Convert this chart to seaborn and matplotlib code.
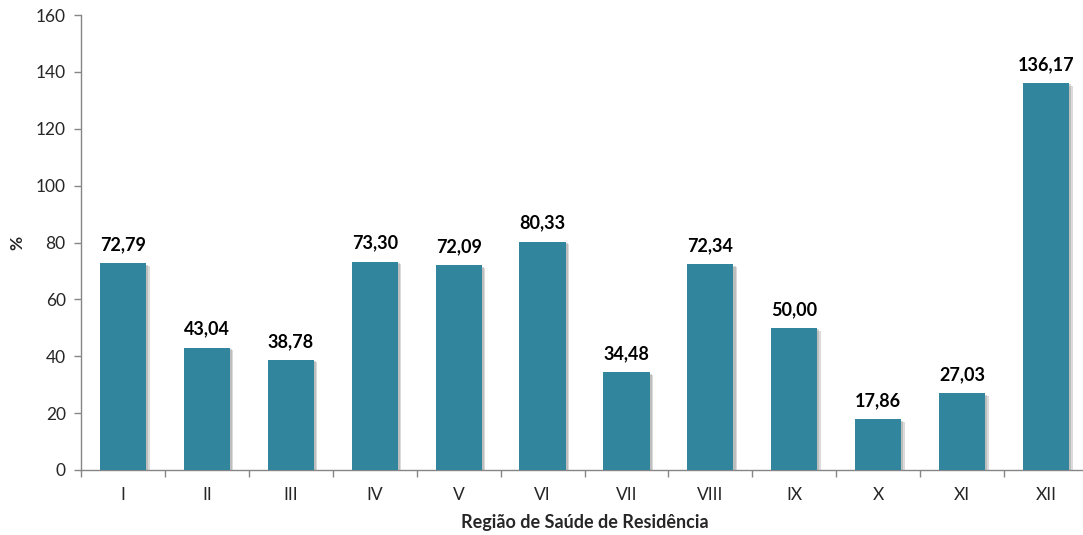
import matplotlib
matplotlib.use("Agg")
import matplotlib.pyplot as plt
import matplotlib.patheffects as pe
from matplotlib.ticker import FixedLocator, MultipleLocator
import seaborn as sns
import pandas as pd

regioes = ["I", "II", "III", "IV", "V", "VI", "VII", "VIII", "IX", "X", "XI", "XII"]
valores = [72.79, 43.04, 38.78, 73.30, 72.09, 80.33, 34.48, 72.34, 50.00, 17.86, 27.03, 136.17]

sns.set_theme(style="white")
plt.rcParams["font.family"] = ["Lato", "DejaVu Sans"]

df = pd.DataFrame({"regiao": regioes, "valor": valores})

fig = plt.figure(figsize=(10.83, 5.35), dpi=100)
ax = fig.add_axes([81 / 1083, 1 - 470 / 535, 1007 / 1083, 455 / 535])

sns.barplot(data=df, x="regiao", y="valor", color="#31859C", width=0.55,
            saturation=1, ax=ax, zorder=3)

# soft drop shadow to the lower right of each bar
shadow = [pe.SimplePatchShadow(offset=(2.5, -2), shadow_rgbFace="#9a9a9a", alpha=0.35),
          pe.SimplePatchShadow(offset=(1.5, -1.2), shadow_rgbFace="#8a8a8a", alpha=0.35),
          pe.Normal()]
for bar in ax.patches:
    bar.set_path_effects(shadow)
    bar.set_edgecolor("none")

for i, v in enumerate(valores):
    ax.text(i, v + 3.5, f"{v:.2f}".replace(".", ","), ha="center", va="bottom",
            fontsize=13, fontweight="bold", color="black")

ax.set_ylim(0, 160)
ax.set_xlim(-0.5, len(regioes) - 0.5)
ax.yaxis.set_major_locator(MultipleLocator(20))
ax.xaxis.set_minor_locator(FixedLocator([i + 0.5 for i in range(-1, len(regioes))]))

for side in ["top", "right"]:
    ax.spines[side].set_visible(False)
for side in ["left", "bottom"]:
    ax.spines[side].set_color("#868686")
    ax.spines[side].set_linewidth(1.0)

ax.tick_params(axis="y", which="major", direction="out", length=5, width=1,
               color="#868686", labelsize=12.5, pad=6, left=True)
ax.tick_params(axis="x", which="major", length=0, labelsize=12.5, pad=12)
ax.tick_params(axis="x", which="minor", direction="out", length=5, width=1,
               color="#868686", bottom=True)

ax.set_xlabel("Região de Saúde de Residência", fontsize=13, fontweight="bold")
ax.xaxis.set_label_coords(0.5, -0.097)
ax.set_ylabel("%", fontsize=12.5, fontweight="bold")
ax.yaxis.set_label_coords(-0.055, 0.5)

fig.savefig("out.png", dpi=100)
